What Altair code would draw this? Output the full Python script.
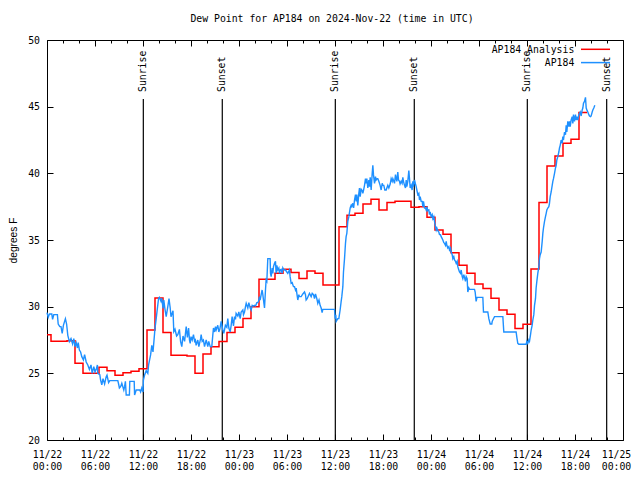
import altair as alt
import pandas as pd

# ---------------- data (hours since 2024-11-22 00:00 UTC) ----------------
chart_title = "Dew Point for AP184 on 2024-Nov-22 (time in UTC)"
series_names = ["AP184 Analysis", "AP184"]
series_colors = ["#ff0000", "#1e90ff"]

# hourly analysis values, hour 0 .. 67
analysis_dewpt = [
    27.9, 27.4, 27.4, 27.45, 25.75, 25.0, 25.0, 25.45, 25.2, 24.85,
    25.05, 25.15, 25.35, 28.25, 30.65, 28.07, 26.35, 26.35, 26.3, 25.0,
    26.45, 27.0, 27.38, 28.07, 28.45, 29.12, 30.0, 32.05, 32.05, 32.5,
    32.8, 32.57, 32.12, 32.67, 32.5, 31.63, 31.63, 36.0, 36.85, 37.0,
    37.7, 38.05, 37.25, 37.82, 37.9, 37.9, 37.45, 37.5, 36.7, 35.75,
    35.43, 34.05, 33.1, 32.5, 31.7, 31.37, 30.63, 29.75, 29.43, 28.37,
    28.68, 32.83, 37.82, 40.55, 41.3, 42.25, 42.55, 44.57,
]

# observations: (hour, dew point F)
ap184_obs = [
    (0.0, 29.55), (0.15, 29.2), (0.3, 29.45), (0.6, 29.45), (0.7, 29.05), (0.85, 29.4),
    (1.3, 29.4), (1.4, 28.7), (1.6, 28.5), (1.75, 28.5), (1.9, 28.0), (2.05, 28.6),
    (2.3, 29.1), (2.45, 28.7), (2.6, 27.85), (2.8, 27.38), (3.0, 27.6), (3.2, 27.2),
    (3.35, 27.6), (3.5, 27.0), (3.65, 27.3), (3.8, 26.9), (3.9, 27.3), (4.05, 26.75),
    (4.2, 26.6), (4.35, 26.25), (4.55, 26.0), (4.7, 26.4), (4.9, 25.85), (5.1, 25.63),
    (5.3, 25.3), (5.5, 25.63), (5.65, 25.0), (5.85, 25.5), (6.0, 25.1), (6.15, 25.3),
    (6.3, 25.63), (6.35, 25.0), (6.6, 24.9), (6.7, 24.5), (6.85, 24.13), (7.0, 24.6),
    (7.2, 24.2), (7.4, 24.75), (7.5, 24.87), (7.7, 24.3), (7.85, 24.45), (8.85, 24.45),
    (8.95, 24.2), (9.05, 23.9), (9.2, 24.0), (9.35, 24.25), (9.6, 23.75), (9.7, 24.0),
    (9.8, 24.4), (9.9, 23.37), (10.3, 23.37), (10.35, 24.4), (10.9, 24.4), (10.95, 23.37),
    (11.15, 23.75), (11.6, 23.75), (11.7, 23.6), (11.85, 23.9), (12.0, 23.6), (12.05, 24.5),
    (12.2, 24.87), (12.4, 25.2), (12.6, 25.0), (12.7, 25.63), (12.95, 26.38), (13.1, 27.1),
    (13.25, 26.6), (13.35, 27.3), (13.5, 28.37), (13.65, 29.1), (13.75, 29.63), (13.95, 30.63),
    (14.05, 30.7), (14.25, 30.4), (14.35, 30.63), (14.5, 29.87), (14.6, 30.5), (14.75, 29.8),
    (14.9, 29.25), (15.1, 30.0), (15.25, 30.6), (15.4, 29.9), (15.5, 29.25), (15.75, 29.7),
    (15.85, 28.13), (16.0, 28.3), (16.2, 27.8), (16.35, 27.9), (16.55, 28.3), (16.7, 27.38),
    (16.85, 27.0), (17.0, 27.8), (17.2, 27.4), (17.4, 28.5), (17.55, 27.7), (17.7, 28.4),
    (17.81, 27.5), (17.9, 27.25), (18.0, 27.75), (18.15, 27.5), (18.31, 27.9), (18.45, 27.4),
    (18.55, 27.5), (18.64, 27.1), (18.85, 27.5), (18.98, 27.0), (19.2, 27.6), (19.27, 27.9),
    (19.4, 27.4), (19.55, 27.5), (19.69, 27.0), (19.9, 27.5), (20.1, 27.0), (20.22, 27.4),
    (20.4, 27.0), (20.6, 27.0), (20.73, 27.9), (20.81, 28.4), (20.95, 28.1), (21.06, 28.5),
    (21.15, 28.25), (21.35, 28.6), (21.48, 28.1), (21.6, 28.3), (21.77, 28.9), (21.98, 28.25),
    (22.1, 28.0), (22.3, 28.6), (22.48, 28.45), (22.6, 29.1), (22.73, 28.4), (22.9, 28.1),
    (23.02, 28.6), (23.14, 29.25), (23.23, 28.9), (23.31, 28.55), (23.44, 29.25), (23.56, 29.05),
    (23.64, 29.5), (23.85, 29.3), (23.98, 29.6), (24.15, 29.1), (24.27, 29.6), (24.48, 29.75),
    (24.56, 29.4), (24.69, 29.6), (24.81, 30.0), (24.9, 30.25), (25.1, 29.9), (25.23, 30.3),
    (25.4, 29.9), (25.52, 29.75), (25.65, 30.1), (25.81, 30.05), (25.94, 30.1), (26.06, 30.05),
    (26.23, 30.3), (26.35, 30.3), (26.44, 30.4), (26.56, 30.75), (26.64, 30.5), (26.77, 30.9),
    (26.89, 31.25), (26.98, 30.9), (27.06, 30.5), (27.19, 29.9), (27.31, 31.25), (27.39, 32.0),
    (27.48, 31.9), (27.6, 33.6), (27.89, 33.6), (27.94, 32.5), (28.02, 32.25), (28.15, 32.9),
    (28.23, 32.5), (28.31, 33.0), (28.44, 33.25), (28.56, 33.4), (28.64, 32.5), (28.73, 33.1),
    (28.85, 32.75), (28.98, 32.9), (29.06, 32.5), (29.15, 32.75), (29.27, 32.8), (29.4, 32.5),
    (29.48, 32.9), (29.56, 32.8), (29.69, 32.75), (29.81, 32.75), (29.98, 32.6), (30.1, 32.5),
    (30.31, 32.75), (30.39, 32.25), (30.52, 31.75), (30.65, 31.8), (30.81, 31.5), (30.94, 31.5),
    (31.06, 31.25), (31.15, 31.4), (31.23, 31.0), (31.35, 30.5), (31.48, 30.9), (31.56, 30.75),
    (31.77, 30.75), (31.98, 30.95), (32.19, 31.1), (32.31, 30.9), (32.39, 30.5), (32.52, 30.6),
    (32.73, 30.9), (32.81, 31.0), (33.02, 30.75), (33.15, 31.0), (33.31, 30.9), (33.44, 30.6),
    (33.56, 30.95), (33.73, 30.6), (33.85, 30.25), (34.0, 30.5), (34.14, 30.1), (34.27, 29.9),
    (34.39, 29.55), (34.48, 29.8), (35.94, 29.8),
    (36.02, 29.1), (36.1, 29.4), (36.15, 28.9), (36.35, 29.1), (36.48, 29.1), (36.64, 29.75),
    (36.77, 30.4), (36.85, 30.75), (36.98, 31.5), (37.06, 32.6), (37.19, 33.6), (37.31, 34.75),
    (37.39, 35.25), (37.48, 35.5), (37.6, 36.4), (37.73, 36.75), (37.9, 37.4), (38.02, 37.6),
    (38.1, 37.5), (38.23, 37.75), (38.33, 37.4), (38.44, 38.0), (38.56, 38.4), (38.65, 37.9),
    (38.73, 38.4), (38.85, 37.6), (38.98, 38.5), (39.06, 38.9), (39.15, 38.25), (39.27, 38.8),
    (39.4, 38.7), (39.48, 38.5), (39.56, 38.7), (39.69, 39.1), (39.81, 39.6), (39.9, 39.25),
    (39.98, 39.6), (40.1, 38.9), (40.23, 39.5), (40.31, 39.0), (40.4, 39.7), (40.52, 38.75),
    (40.64, 39.9), (40.73, 40.6), (40.81, 39.9), (40.94, 39.25), (41.06, 39.75), (41.14, 39.5),
    (41.27, 39.6), (41.35, 39.6), (41.48, 39.4), (41.64, 39.1), (41.77, 38.75), (41.9, 39.25),
    (41.98, 39.1), (42.1, 39.1), (42.23, 38.75), (42.4, 38.75), (42.48, 38.9), (42.6, 39.1),
    (42.73, 38.9), (42.9, 39.2), (43.02, 39.6), (43.15, 39.4), (43.23, 39.6), (43.35, 39.4),
    (43.44, 39.25), (43.56, 39.9), (43.65, 39.6), (43.73, 39.4), (43.85, 40.1), (43.94, 39.5),
    (44.06, 39.4), (44.14, 39.2), (44.27, 39.4), (44.39, 39.25), (44.48, 39.7), (44.56, 39.4),
    (44.69, 39.1), (44.81, 38.9), (44.9, 39.5), (44.98, 39.0), (45.1, 39.4), (45.23, 40.2),
    (45.31, 39.6), (45.4, 38.9), (45.52, 39.1), (45.64, 38.75), (45.73, 39.4), (45.81, 39.0),
    (45.94, 39.5), (46.06, 39.2), (46.15, 39.0), (46.23, 38.75), (46.35, 38.4), (46.48, 38.5),
    (46.56, 38.0), (46.65, 38.25), (46.77, 37.9), (46.9, 37.9), (46.98, 37.5), (47.06, 37.9),
    (47.19, 37.4), (47.31, 37.4), (47.4, 37.25), (47.48, 37.5), (47.6, 37.2), (47.73, 37.25),
    (47.81, 36.9), (47.9, 37.1), (48.02, 36.75), (48.15, 36.9), (48.23, 36.6), (48.35, 36.75),
    (48.44, 36.4), (48.56, 36.0), (48.65, 35.75), (48.73, 35.9), (48.85, 35.7), (48.98, 35.6),
    (49.06, 35.4), (49.19, 35.4), (49.27, 35.25), (49.4, 35.1), (49.48, 35.0), (49.6, 34.8),
    (49.69, 34.75), (49.81, 34.6), (49.9, 34.9), (49.98, 34.6), (50.1, 34.4), (50.23, 34.5),
    (50.31, 34.25), (50.44, 34.4), (50.52, 34.1), (50.65, 33.9), (50.73, 33.6), (50.85, 33.75),
    (50.94, 33.5), (51.06, 33.4), (51.15, 33.25), (51.27, 33.4), (51.35, 33.0), (51.48, 32.75),
    (51.56, 32.6), (51.69, 32.5), (51.77, 32.75), (51.9, 32.25), (51.98, 32.1), (52.1, 32.4),
    (52.19, 32.2), (52.31, 31.9), (52.4, 32.25), (52.52, 32.1), (52.6, 31.1), (52.73, 31.4),
    (52.81, 31.3), (53.44, 31.3), (53.52, 31.1), (53.64, 30.4), (53.75, 30.7), (54.48, 30.7),
    (54.56, 29.6), (55.1, 29.6), (55.23, 29.1), (55.4, 28.7), (55.6, 28.7), (55.65, 28.9),
    (55.73, 29.0), (55.94, 29.25), (56.98, 29.25), (57.1, 28.1), (58.64, 28.1), (58.73, 27.7),
    (58.85, 27.25), (58.98, 27.18), (59.9, 27.18), (59.98, 27.4), (60.1, 27.25), (60.23, 27.5),
    (60.31, 27.4), (60.44, 27.9), (60.52, 28.25), (60.64, 28.6), (60.73, 29.0), (60.85, 29.4),
    (60.94, 30.1), (61.06, 30.6), (61.14, 31.4), (61.23, 31.9), (61.35, 32.5), (61.48, 33.0),
    (61.56, 33.6), (61.65, 33.9), (61.77, 34.1), (61.9, 34.9), (61.98, 35.5), (62.06, 35.9),
    (62.19, 36.4), (62.31, 36.75), (62.4, 37.0), (62.48, 37.25), (62.6, 37.4), (62.73, 37.5),
    (62.81, 37.75), (62.9, 38.25), (63.02, 38.6), (63.15, 39.1), (63.23, 39.4), (63.31, 39.6),
    (63.44, 40.0), (63.56, 40.4), (63.65, 40.6), (63.73, 41.0), (63.85, 41.25), (63.98, 41.6),
    (64.06, 41.9), (64.15, 42.1), (64.27, 42.5), (64.4, 42.25), (64.48, 42.75), (64.56, 42.5),
    (64.69, 43.1), (64.81, 42.9), (64.9, 43.6), (64.98, 43.1), (65.1, 43.9), (65.23, 43.5),
    (65.31, 43.9), (65.4, 43.5), (65.52, 44.0), (65.65, 44.25), (65.73, 43.75), (65.81, 44.4),
    (65.94, 43.9), (66.06, 44.4), (66.15, 44.0), (66.23, 44.25), (66.35, 44.0), (66.48, 44.4),
    (66.65, 44.6), (66.77, 44.3), (66.9, 44.75), (66.98, 44.9), (67.06, 45.25), (67.19, 45.4),
    (67.31, 45.7), (67.4, 44.9), (67.52, 44.7), (67.6, 44.6), (67.73, 44.4), (67.81, 44.3),
    (67.94, 44.25), (68.02, 44.3), (68.15, 44.6), (68.23, 44.75), (68.35, 44.9), (68.48, 45.1),
]

sun_hours = [12.04, 21.91, 36.04, 45.91, 60.04, 69.96]
sun_labels = ["Sunrise", "Sunset", "Sunrise", "Sunset", "Sunrise", "Sunset"]

x_major_ticks = list(range(0, 73, 6))
x_all_ticks = list(range(0, 73, 2))
y_ticks = [20, 25, 30, 35, 40, 45, 50]

# ---------------- tables ----------------
red_df = pd.DataFrame({
    "h": list(range(len(analysis_dewpt))) + [len(analysis_dewpt) - 0.5],
    "v": analysis_dewpt + [analysis_dewpt[-1]],
})
blue_df = pd.DataFrame(ap184_obs, columns=["h", "v"])
sun_df = pd.DataFrame({"h": sun_hours, "label": sun_labels})

# ---------------- style ----------------
MONO = "DejaVu Sans Mono"
FS = 9.8
W, H = 576, 400

xs = alt.Scale(domain=[0, 72], nice=False, zero=False)
ys = alt.Scale(domain=[20, 50], nice=False, zero=False)

tick_cond = {"condition": {"test": "datum.value % 6 === 0", "value": 6}, "value": 3}
label_expr = ("['11/' + (22 + floor(datum.value / 24)), "
              "(datum.value % 24 < 10 ? '0' : '') + (datum.value % 24) + ':00']")
last_label_shift = {"condition": {"test": "datum.value === 72", "value": -7}, "value": 0}

x_label_axis = alt.Axis(orient="bottom", values=x_major_ticks, labelExpr=label_expr,
                        ticks=False, domain=False, grid=False, title=None,
                        labelFont=MONO, labelFontSize=FS, labelColor="black",
                        labelPadding=9, labelBaseline="top", labelLineHeight=12,
                        labelAlign="center", labelFlush=False, labelOverlap=False,
                        labelOffset=last_label_shift)
x_bottom_in = alt.Axis(orient="top", offset=-H, values=x_all_ticks, labels=False,
                       domain=False, grid=False, title=None, tickSize=tick_cond,
                       tickColor="black", tickWidth=1)
x_top_in = alt.Axis(orient="bottom", offset=-H, values=x_all_ticks, labels=False,
                    domain=False, grid=False, title=None, tickSize=tick_cond,
                    tickColor="black", tickWidth=1)

y_label_axis = alt.Axis(orient="left", values=y_ticks, ticks=False, domain=False, grid=False,
                        labelFont=MONO, labelFontSize=FS, labelColor="black", labelPadding=7.5,
                        title="degrees F", titleFont="Liberation Sans", titleFontSize=10.2,
                        titleFontWeight="normal", titleColor="black", titleAngle=270,
                        titleX=-33.5, titleY=H / 2, titleAlign="center", titleBaseline="middle")
y_left_in = alt.Axis(orient="right", offset=-W, values=y_ticks, labels=False, domain=False,
                     grid=False, title=None, tickSize=6, tickColor="black", tickWidth=1)
y_right_in = alt.Axis(orient="left", offset=-W, values=y_ticks, labels=False, domain=False,
                      grid=False, title=None, tickSize=6, tickColor="black", tickWidth=1)

# ---------------- layers ----------------
sun_rules = alt.Chart(sun_df).mark_rule(color="black", strokeWidth=1.2).encode(
    x=alt.X("h:Q", scale=xs, axis=x_top_in),
    y=alt.value(59), y2=alt.value(H),
)
sun_text = alt.Chart(sun_df).mark_text(angle=270, align="left", baseline="middle",
                                      font=MONO, fontSize=FS, color="black").encode(
    x=alt.X("h:Q", scale=xs, axis=None),
    y=alt.value(52),
    text="label:N",
)
red_line = alt.Chart(red_df).mark_line(interpolate="step", color=series_colors[0],
                                       strokeWidth=1.5).encode(
    x=alt.X("h:Q", scale=xs, axis=x_label_axis),
    y=alt.Y("v:Q", scale=ys, axis=y_label_axis),
)
blue_line = alt.Chart(blue_df).mark_line(color=series_colors[1], strokeWidth=1.4).encode(
    x=alt.X("h:Q", scale=xs, axis=x_bottom_in),
    y=alt.Y("v:Q", scale=ys, axis=y_left_in),
)
ghost = alt.Chart(red_df).mark_point(opacity=0).encode(
    x=alt.X("h:Q", scale=xs, axis=None),
    y=alt.Y("v:Q", scale=ys, axis=y_right_in),
)

legend_layers = []
for i, (name, col) in enumerate(zip(series_names, series_colors)):
    row = pd.DataFrame({"name": [name]})
    yy = 10 + 13.3 * i
    legend_layers.append(
        alt.Chart(row).mark_text(align="right", baseline="middle", font=MONO,
                                 fontSize=FS, color="black").encode(
            x=alt.value(527.3), y=alt.value(yy), text="name:N"))
    legend_layers.append(
        alt.Chart(row).mark_rule(color=col, strokeWidth=1.5).encode(
            x=alt.value(534), x2=alt.value(563), y=alt.value(yy - 0.7)))

chart = alt.layer(sun_rules, sun_text, red_line, blue_line, ghost, *legend_layers).properties(
    width=W, height=H,
    title=alt.TitleParams(chart_title, font=MONO, fontSize=FS, fontWeight="normal",
                          color="black", anchor="middle", baseline="alphabetic",
                          offset=3, dx=-3),
    autosize=alt.AutoSizeParams(type="none"),
    padding={"left": 39, "top": 32, "right": 9, "bottom": 34},
    background="white",
).resolve_axis(x="independent", y="independent").configure_view(
    stroke="black", strokeWidth=1
)

chart.save("out.html", embed_options={"renderer": "svg", "actions": False})
